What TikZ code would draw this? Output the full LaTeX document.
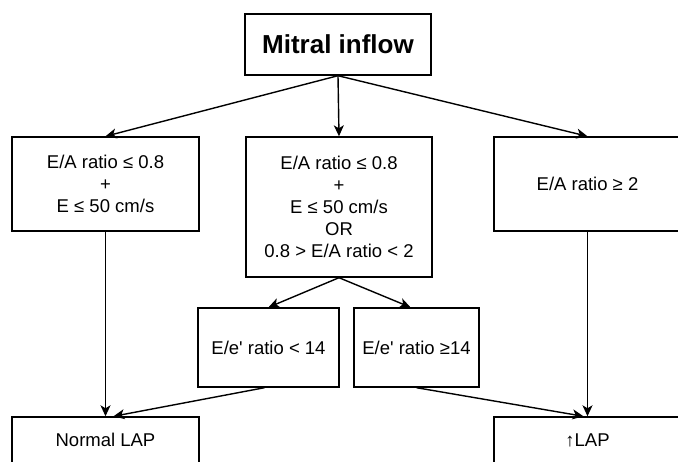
\documentclass[tikz,border=0pt]{standalone}
\usepackage{fontspec}
\setmainfont{Liberation Sans}
\usetikzlibrary{arrows.meta}

\begin{document}
\begin{tikzpicture}[x=1pt,y=-1pt,
    box/.style={draw,line width=1.4pt,align=center,inner sep=0pt,font=\fontsize{18.5}{22}\selectfont},
    link/.style={-{Stealth[length=11pt,width=10pt,inset=3pt]},line width=1.4pt}]
    \useasboundingbox (0,0) rectangle (678,462);
    \clip (0,0) rectangle (678,462);
    \node[box,minimum width=186pt,minimum height=61pt,font=\fontsize{26}{30}\selectfont\bfseries] (mitral) at (338,44.5) {Mitral inflow};
    \node[box,minimum width=187pt,minimum height=94pt] (eaLow) at (105.5,184) {E/A ratio ≤ 0.8\\+\\E ≤ 50 cm/s};
    \node[box,minimum width=186pt,minimum height=140pt] (eaMid) at (339,207) {E/A ratio ≤ 0.8\\+\\E ≤ 50 cm/s\\OR\\0.8 > E/A ratio < 2};
    \node[box,minimum width=187pt,minimum height=94pt] (eaHigh) at (587.5,184) {E/A ratio ≥ 2};
    \node[box,minimum width=141pt,minimum height=79pt] (eeLow) at (268.5,347.5) {E/e\textquotesingle{} ratio < 14};
    \node[box,minimum width=125pt,minimum height=79pt] (eeHigh) at (416.5,347.5) {E/e\textquotesingle{} ratio ≥14};
    \node[box,minimum width=187pt,minimum height=46pt] (normLap) at (105.5,440) {Normal LAP};
    \node[box,minimum width=187pt,minimum height=46pt] (highLap) at (587.5,440) {↑LAP};
    \draw[link] (mitral.south) -- (eaLow.north);
    \draw[link] (mitral.south) -- (eaMid.north);
    \draw[link] (mitral.south) -- (eaHigh.north);
    \draw[link] (eaMid.south) -- (eeLow.north);
    \draw[link] (eaMid.south) -- ([xshift=-6pt]eeHigh.north);
    \draw[link] (eaLow.south) -- (normLap.north);
    \draw[link] ([xshift=-4pt]eeLow.south) -- ([xshift=8pt]normLap.north);
    \draw[link] (eeHigh.south) -- ([xshift=-4pt]highLap.north);
    \draw[link] (eaHigh.south) -- (highLap.north);
\end{tikzpicture}
\end{document}
